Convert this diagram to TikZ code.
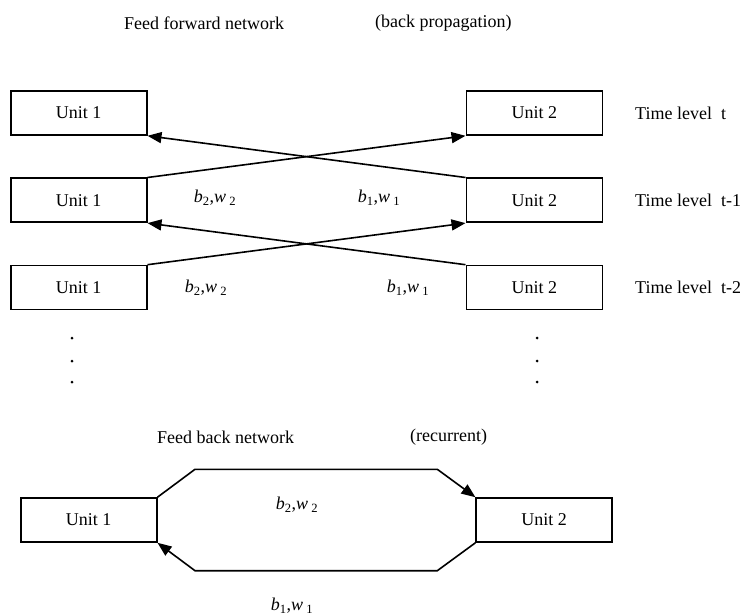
\documentclass[tikz,border=0pt]{standalone}
\usepackage{fontspec}
\setmainfont{Liberation Serif}
\usetikzlibrary{arrows.meta}
\newcommand{\bw}[1]{\textit{b}\textsubscript{#1},\textit{w}\,\textsubscript{#1}}
\begin{document}
\begin{tikzpicture}[x=1pt,y=-1pt,
  every node/.style={font=\fontsize{18}{21}\selectfont},
  unitbox/.style={draw,line width=1.6pt,minimum width=136pt,minimum height=44pt,inner sep=0pt},
  conn/.style={line width=1.6pt,-{Triangle[length=14pt,width=11pt]}},
  plain/.style={inner sep=0pt},
  dotmark/.style={circle,fill=black,inner sep=0pt,minimum size=3pt}]
\useasboundingbox (0,0) rectangle (745,615);
% titles
\node[plain,anchor=west] (t1) at (124,23) {Feed forward network};
\node[plain,anchor=west] (t2) at (375,23) {(back propagation)};
% feed forward units
\node[unitbox] (a1) at (78.7,113) {Unit 1};
\node[unitbox] (a2) at (78.7,200.3) {Unit 1};
\node[unitbox] (a3) at (78.7,287.5) {Unit 1};
\node[unitbox] (c1) at (534.3,113) {Unit 2};
\node[unitbox] (c2) at (534.3,200.3) {Unit 2};
\node[unitbox] (c3) at (534.3,287.5) {Unit 2};
% time levels
\node[plain,anchor=west] (l1) at (635,113) {Time level\ \ t};
\node[plain,anchor=west] (l2) at (635,200.3) {Time level\ \ t-1};
\node[plain,anchor=west] (l3) at (635,287.5) {Time level\ \ t-2};
% connectors
\draw[conn] (c2.north west) -- (a1.south east);
\draw[conn] (a2.north east) -- (c1.south west);
\draw[conn] (c3.north west) -- (a2.south east);
\draw[conn] (a3.north east) -- (c2.south west);
% weight labels
\node[plain] (w21) at (215,198) {\bw{2}};
\node[plain] (w11) at (379,198) {\bw{1}};
\node[plain] (w22) at (206,288) {\bw{2}};
\node[plain] (w12) at (408,288) {\bw{1}};
% dots
\node[dotmark] (d1) at (72,338) {};
\node[dotmark] (d2) at (72,361) {};
\node[dotmark] (d3) at (72,382) {};
\node[dotmark] (e1) at (537,338) {};
\node[dotmark] (e2) at (537,361) {};
\node[dotmark] (e3) at (537,382) {};
% feed back network
\node[plain,anchor=west] (t3) at (157,437) {Feed back network};
\node[plain,anchor=west] (t4) at (410,437) {(recurrent)};
\node[unitbox] (b1) at (88.7,520) {Unit 1};
\node[unitbox] (b2) at (544.2,520) {Unit 2};
\coordinate (p1) at (195,469.3);
\coordinate (p2) at (437.3,469.3);
\coordinate (p3) at (437.3,570.7);
\coordinate (p4) at (195,570.7);
\draw[conn] (b1.north east) -- (p1) -- (p2) -- (b2.north west);
\draw[conn] (b2.south west) -- (p3) -- (p4) -- (b1.south east);
\node[plain] (w23) at (297,505) {\bw{2}};
\node[plain] (w13) at (292,606) {\bw{1}};
\end{tikzpicture}
\end{document}
